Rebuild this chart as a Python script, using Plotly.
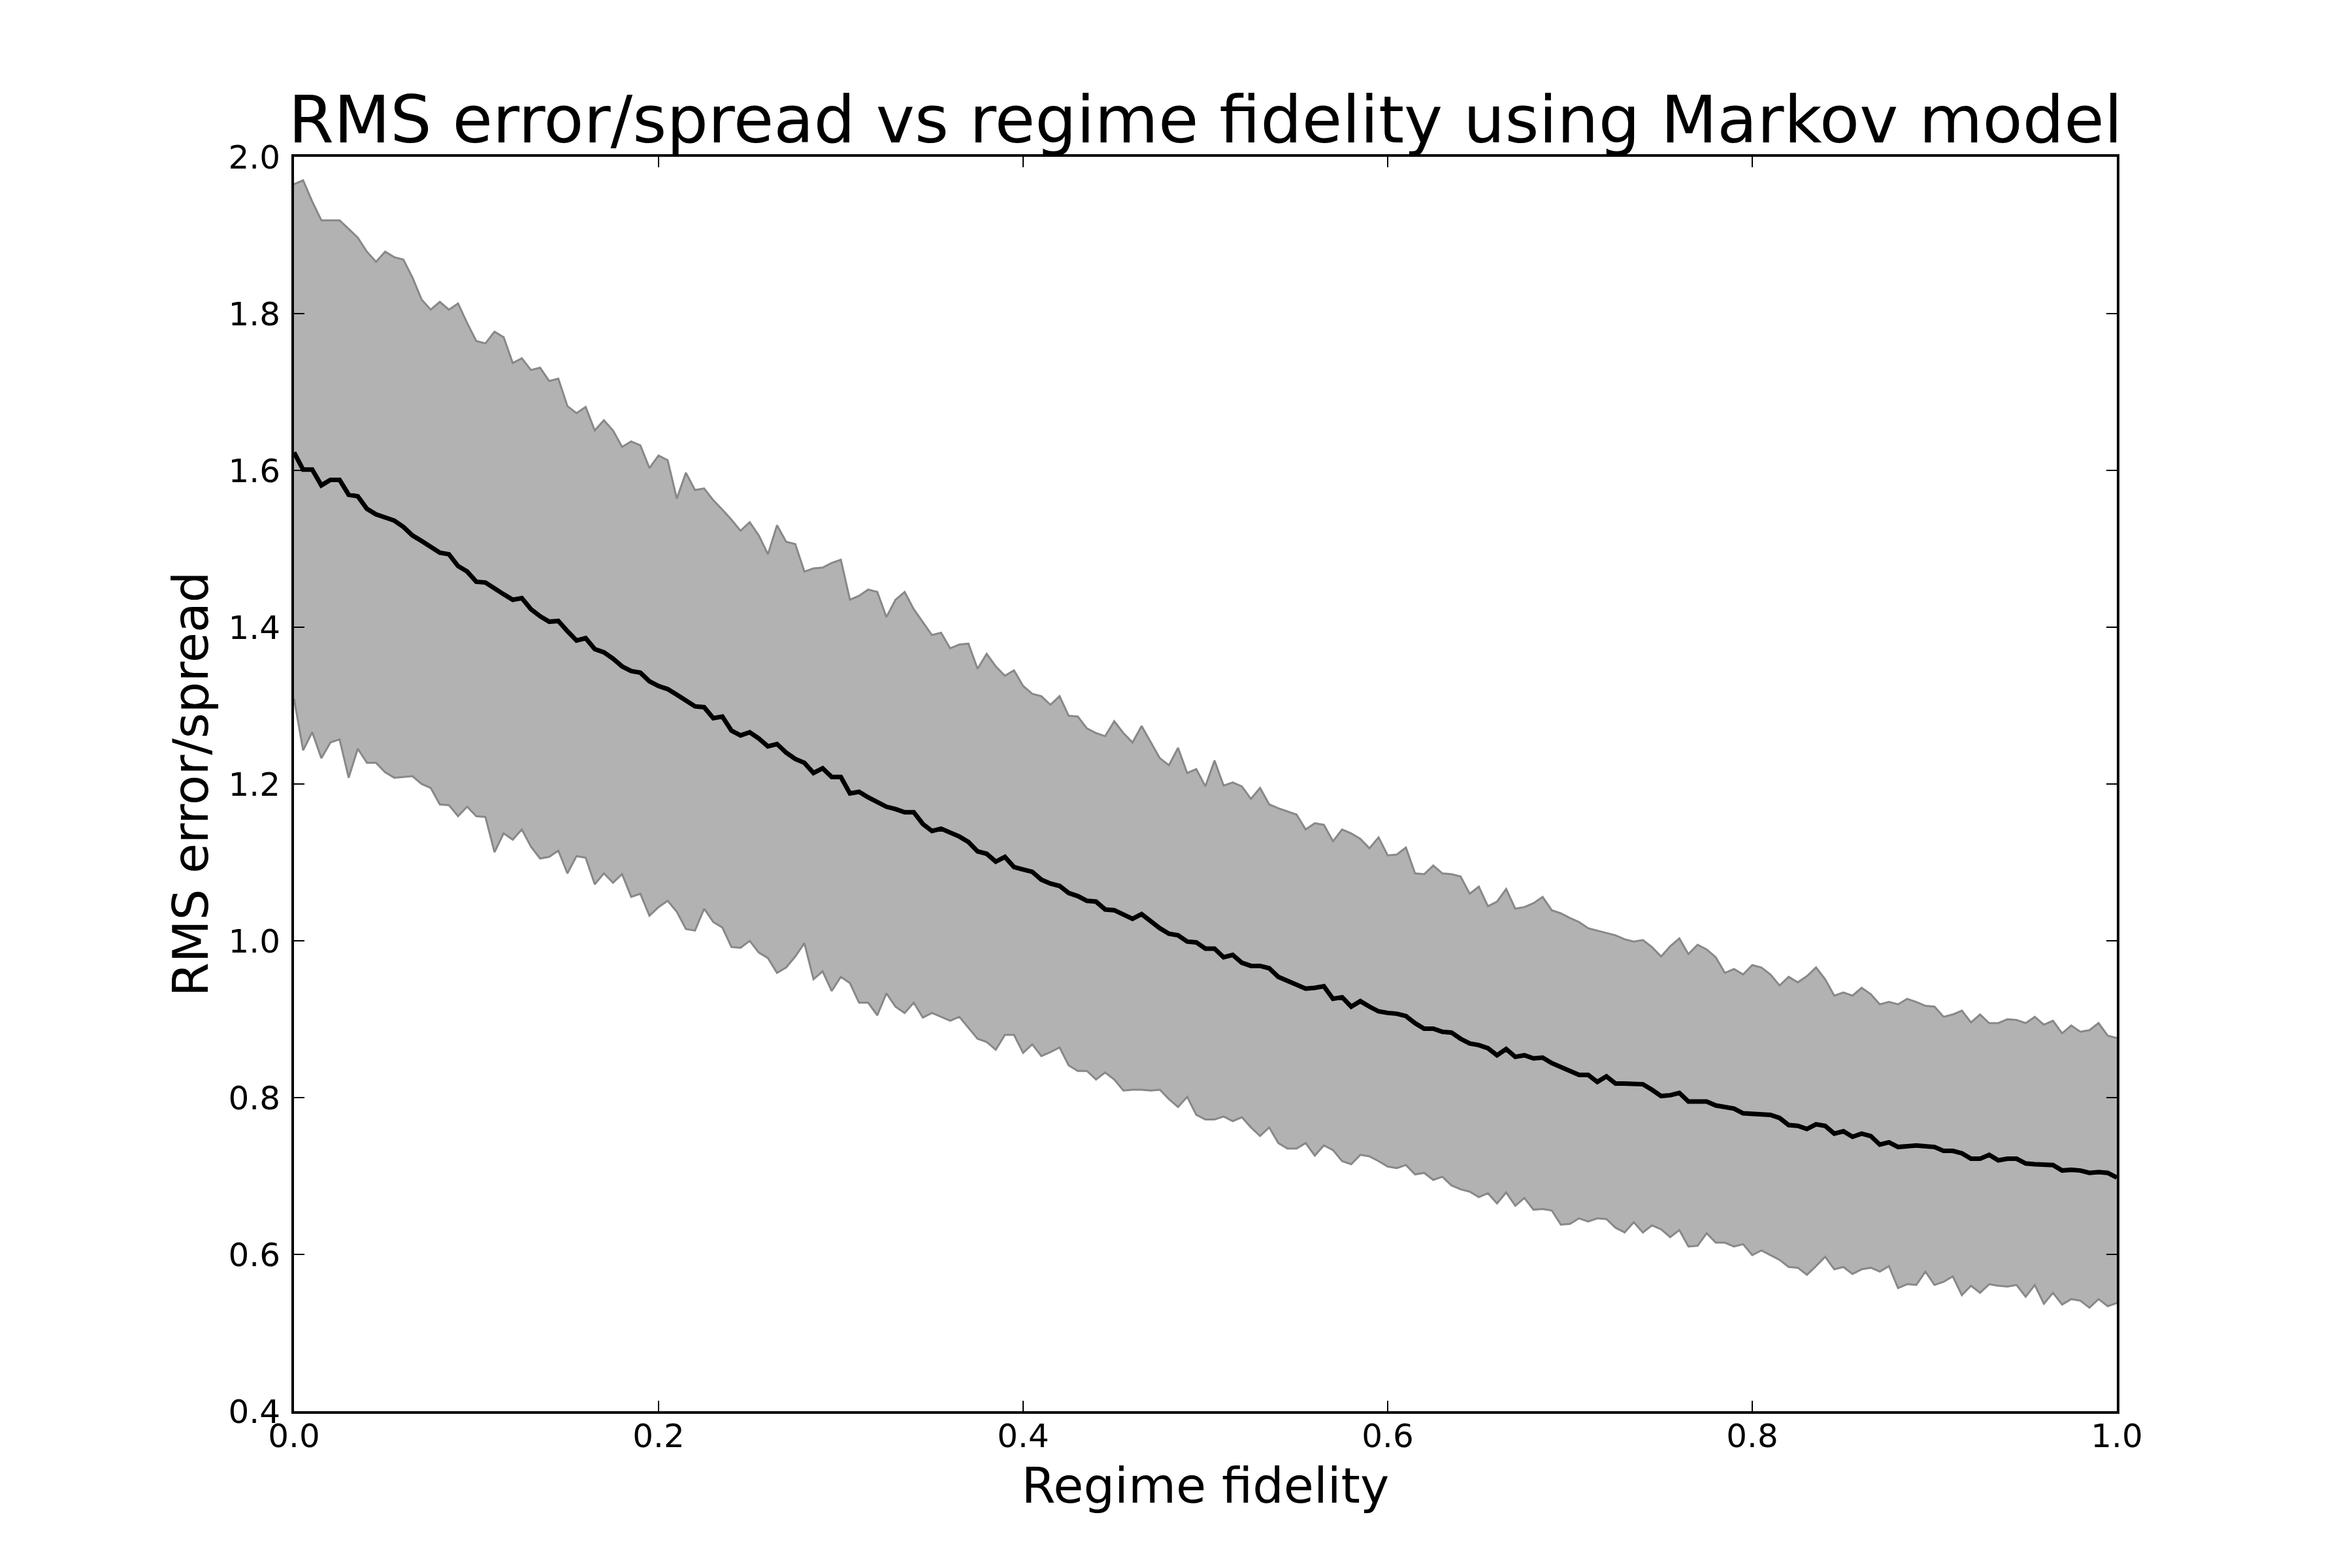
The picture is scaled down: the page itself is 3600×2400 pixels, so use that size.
import numpy as np
import plotly.graph_objects as go

# regime fidelity grid (201 samples from 0 to 1)
fidelity = np.linspace(0.0, 1.0, 201)

# upper edge of the spread band
upper = [
    1.965, 1.970, 1.943, 1.919, 1.919, 1.919, 1.908, 1.897, 1.879, 1.866,
    1.879, 1.872, 1.869, 1.846, 1.818, 1.805, 1.815, 1.805, 1.813, 1.788,
    1.765, 1.762, 1.777, 1.770, 1.737, 1.743, 1.728, 1.731, 1.714, 1.717,
    1.682, 1.673, 1.681, 1.651, 1.664, 1.651, 1.630, 1.637, 1.632, 1.603,
    1.619, 1.613, 1.564, 1.597, 1.575, 1.577, 1.562, 1.550, 1.537, 1.523,
    1.534, 1.517, 1.493, 1.530, 1.509, 1.506, 1.471, 1.475, 1.476, 1.482,
    1.486, 1.435, 1.440, 1.448, 1.445, 1.413, 1.435, 1.445, 1.423, 1.407,
    1.390, 1.393, 1.373, 1.378, 1.379, 1.347, 1.366, 1.350, 1.338, 1.345,
    1.325, 1.315, 1.312, 1.301, 1.312, 1.287, 1.286, 1.271, 1.265, 1.261,
    1.280, 1.265, 1.253, 1.274, 1.253, 1.233, 1.224, 1.246, 1.214, 1.219,
    1.197, 1.230, 1.198, 1.202, 1.197, 1.181, 1.195, 1.174, 1.169, 1.165,
    1.161, 1.142, 1.150, 1.148, 1.127, 1.142, 1.137, 1.130, 1.118, 1.132,
    1.109, 1.110, 1.119, 1.086, 1.085, 1.096, 1.086, 1.085, 1.082, 1.060,
    1.069, 1.044, 1.050, 1.066, 1.041, 1.043, 1.048, 1.056, 1.039, 1.035,
    1.029, 1.024, 1.016, 1.013, 1.010, 1.007, 1.002, 0.999, 1.001, 0.992,
    0.980, 0.993, 1.003, 0.983, 0.995, 0.989, 0.979, 0.959, 0.964, 0.957,
    0.969, 0.966, 0.957, 0.943, 0.954, 0.947, 0.955, 0.966, 0.951, 0.930,
    0.934, 0.930, 0.940, 0.932, 0.919, 0.922, 0.919, 0.926, 0.922, 0.917,
    0.916, 0.903, 0.906, 0.911, 0.896, 0.906, 0.895, 0.895, 0.900, 0.899,
    0.895, 0.903, 0.893, 0.898, 0.882, 0.892, 0.884, 0.886, 0.895, 0.879,
    0.876,
]

# mean RMS error/spread
mean = [
    1.623, 1.601, 1.601, 1.581, 1.588, 1.588, 1.569, 1.567, 1.551, 1.544,
    1.540, 1.536, 1.528, 1.517, 1.510, 1.502, 1.495, 1.493, 1.478, 1.471,
    1.458, 1.457, 1.449, 1.442, 1.435, 1.437, 1.423, 1.414, 1.407, 1.408,
    1.395, 1.383, 1.386, 1.372, 1.368, 1.360, 1.350, 1.344, 1.342, 1.331,
    1.325, 1.321, 1.314, 1.307, 1.299, 1.298, 1.284, 1.286, 1.268, 1.262,
    1.266, 1.258, 1.248, 1.251, 1.240, 1.232, 1.227, 1.214, 1.220, 1.209,
    1.209, 1.188, 1.190, 1.183, 1.177, 1.171, 1.168, 1.164, 1.164, 1.149,
    1.140, 1.143, 1.138, 1.133, 1.126, 1.114, 1.111, 1.101, 1.107, 1.094,
    1.091, 1.088, 1.078, 1.073, 1.070, 1.061, 1.057, 1.051, 1.050, 1.040,
    1.039, 1.033, 1.028, 1.034, 1.025, 1.016, 1.009, 1.007, 0.999, 0.998,
    0.990, 0.990, 0.979, 0.982, 0.972, 0.968, 0.968, 0.965, 0.954, 0.949,
    0.943, 0.939, 0.940, 0.942, 0.926, 0.928, 0.916, 0.923, 0.916, 0.910,
    0.908, 0.907, 0.904, 0.895, 0.888, 0.888, 0.884, 0.883, 0.875, 0.869,
    0.867, 0.863, 0.854, 0.862, 0.852, 0.854, 0.850, 0.851, 0.844, 0.839,
    0.834, 0.829, 0.829, 0.820, 0.827, 0.818, 0.818, 0.817, 0.817, 0.810,
    0.802, 0.803, 0.806, 0.795, 0.795, 0.795, 0.790, 0.788, 0.786, 0.780,
    0.779, 0.778, 0.778, 0.774, 0.765, 0.764, 0.760, 0.766, 0.764, 0.754,
    0.757, 0.750, 0.754, 0.751, 0.740, 0.743, 0.737, 0.738, 0.739, 0.738,
    0.737, 0.732, 0.732, 0.729, 0.722, 0.722, 0.727, 0.720, 0.722, 0.722,
    0.716, 0.715, 0.714, 0.714, 0.707, 0.708, 0.707, 0.704, 0.705, 0.704,
    0.698,
]

# lower edge of the spread band
lower = [
    1.309, 1.243, 1.266, 1.233, 1.253, 1.257, 1.208, 1.245, 1.227, 1.227,
    1.215, 1.208, 1.209, 1.210, 1.200, 1.195, 1.174, 1.173, 1.159, 1.171,
    1.159, 1.158, 1.113, 1.137, 1.129, 1.142, 1.120, 1.105, 1.107, 1.115,
    1.086, 1.108, 1.106, 1.072, 1.086, 1.074, 1.085, 1.056, 1.060, 1.032,
    1.043, 1.051, 1.037, 1.015, 1.013, 1.041, 1.024, 1.017, 0.992, 0.991,
    1.000, 0.985, 0.978, 0.959, 0.966, 0.980, 0.997, 0.951, 0.961, 0.936,
    0.954, 0.946, 0.921, 0.921, 0.905, 0.933, 0.916, 0.908, 0.921, 0.902,
    0.908, 0.903, 0.898, 0.903, 0.889, 0.875, 0.871, 0.861, 0.880, 0.880,
    0.857, 0.868, 0.853, 0.858, 0.864, 0.841, 0.834, 0.834, 0.823, 0.832,
    0.823, 0.809, 0.810, 0.810, 0.809, 0.810, 0.798, 0.788, 0.801, 0.778,
    0.772, 0.772, 0.776, 0.770, 0.775, 0.762, 0.751, 0.762, 0.742, 0.735,
    0.735, 0.742, 0.726, 0.739, 0.733, 0.719, 0.715, 0.727, 0.725, 0.719,
    0.712, 0.710, 0.714, 0.702, 0.704, 0.695, 0.699, 0.688, 0.683, 0.680,
    0.673, 0.678, 0.665, 0.679, 0.662, 0.672, 0.657, 0.658, 0.656, 0.638,
    0.639, 0.646, 0.642, 0.646, 0.645, 0.634, 0.628, 0.641, 0.628, 0.637,
    0.632, 0.622, 0.631, 0.610, 0.611, 0.627, 0.615, 0.615, 0.610, 0.613,
    0.599, 0.605, 0.599, 0.593, 0.584, 0.583, 0.574, 0.585, 0.597, 0.581,
    0.584, 0.575, 0.581, 0.583, 0.578, 0.585, 0.557, 0.562, 0.561, 0.578,
    0.561, 0.565, 0.572, 0.548, 0.560, 0.551, 0.562, 0.560, 0.559, 0.561,
    0.546, 0.561, 0.537, 0.551, 0.536, 0.543, 0.541, 0.532, 0.543, 0.534,
    0.538,
]

x_ticks = [0.0, 0.2, 0.4, 0.6, 0.8, 1.0]
y_ticks = [0.4, 0.6, 0.8, 1.0, 1.2, 1.4, 1.6, 1.8, 2.0]

FONT = "DejaVu Sans"
edge = "#888888"

fig = go.Figure()

# spread band
fig.add_trace(go.Scatter(
    x=fidelity, y=lower,
    mode="lines",
    line=dict(color=edge, width=3),
    showlegend=False,
    hoverinfo="skip",
))
fig.add_trace(go.Scatter(
    x=fidelity, y=upper,
    mode="lines",
    line=dict(color=edge, width=3),
    fill="tonexty",
    fillcolor="#b2b2b2",
    showlegend=False,
    hoverinfo="skip",
))

# mean curve
fig.add_trace(go.Scatter(
    x=fidelity, y=mean,
    mode="lines",
    line=dict(color="black", width=7),
    showlegend=False,
))

axis_style = dict(
    showline=True,
    linewidth=4,
    linecolor="black",
    mirror="ticks",
    ticks="inside",
    ticklen=16,
    tickwidth=2,
    tickcolor="black",
    showgrid=False,
    zeroline=False,
    tickfont=dict(family=FONT, size=50, color="black"),
    tickformat=".1f",
)

fig.update_layout(
    width=3600,
    height=2400,
    margin=dict(l=450, r=360, t=240, b=240),
    paper_bgcolor="white",
    plot_bgcolor="white",
    font=dict(family=FONT, color="black"),
    title=dict(
        text="RMS error/spread vs regime fidelity using Markov model",
        font=dict(family=FONT, size=100, color="black"),
        x=0.5,
        xref="paper",
        xanchor="center",
        y=0.909,
        yref="container",
        yanchor="bottom",
    ),
    xaxis=dict(
        axis_style,
        range=[0, 1],
        tickvals=x_ticks,
        ticklabelstandoff=-9,
        title=dict(text="Regime fidelity", font=dict(family=FONT, size=75, color="black"), standoff=22),
    ),
    yaxis=dict(
        axis_style,
        range=[0.4, 2.0],
        tickvals=y_ticks,
        ticklabelstandoff=7,
        title=dict(text="RMS error/spread", font=dict(family=FONT, size=75, color="black"), standoff=7),
    ),
)

fig.write_html(
    "out.html",
    config={"displayModeBar": False},
    post_script="document.body.style.margin='0px';",
)
